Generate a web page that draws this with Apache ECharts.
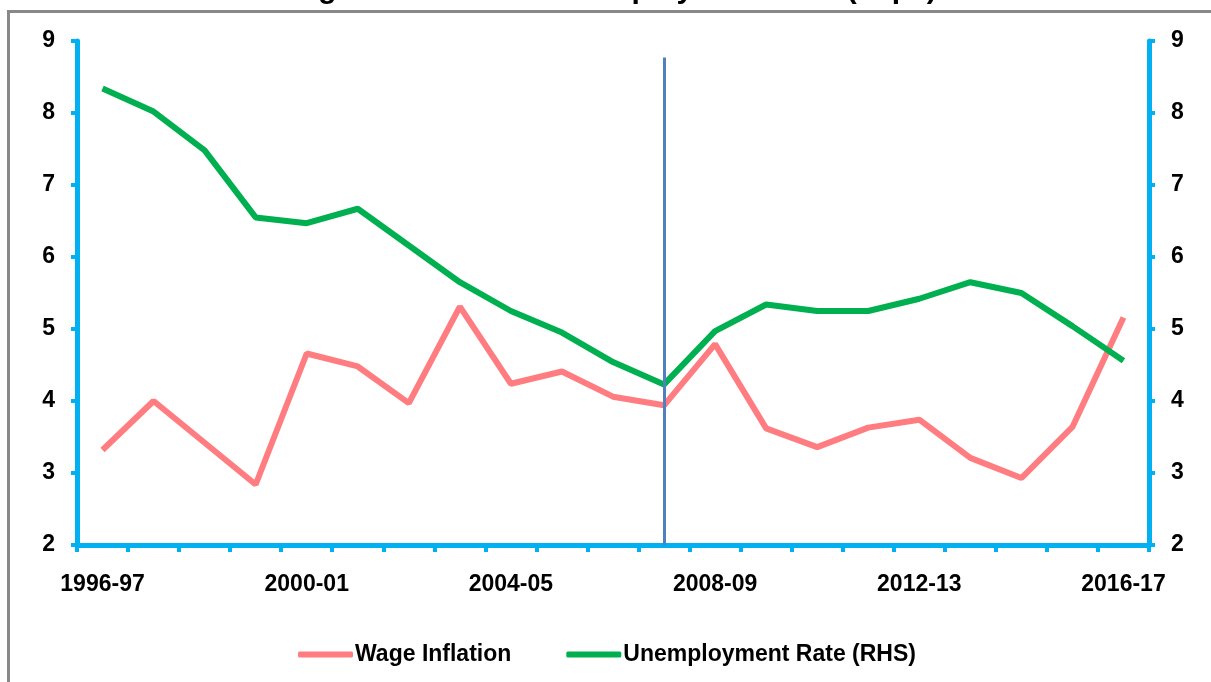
<!DOCTYPE html>
<html>
<head>
<meta charset="utf-8">
<script src="https://cdn.jsdelivr.net/npm/echarts@6/dist/echarts.min.js"></script>
<style>
html,body{margin:0;padding:0;background:#fff;}
#chart{width:1211px;height:682px;}
</style>
</head>
<body>
<div id="chart"></div>
<script>
const titleText = 'Wage Inflation and Unemployment Rate (in pc)';
const categories = ['1996-97','1997-98','1998-99','1999-00','2000-01','2001-02','2002-03','2003-04','2004-05','2005-06','2006-07','2007-08','2008-09','2009-10','2010-11','2011-12','2012-13','2013-14','2014-15','2015-16','2016-17'];
const wageInflation = [3.32, 4.0, 3.42, 2.84, 4.66, 4.48, 3.97, 5.31, 4.24, 4.41, 4.06, 3.94, 4.79, 3.62, 3.36, 3.63, 3.74, 3.21, 2.93, 3.64, 5.16];
const unemploymentRate = [8.34, 8.02, 7.48, 6.55, 6.47, 6.67, 6.16, 5.65, 5.25, 4.95, 4.54, 4.23, 4.97, 5.34, 5.25, 5.25, 5.42, 5.65, 5.5, 5.04, 4.56];
const yTicks = [2, 3, 4, 5, 6, 7, 8, 9];
const eventCategory = '2007-08';
const eventLineTop = 8.77;

const FONT = 'Liberation Sans';
const AXIS_BLUE = '#00b0f0';
const chart = echarts.init(document.getElementById('chart'), null, {renderer: 'canvas'});

const yAxisCommon = {
  type: 'value',
  min: yTicks[0],
  max: yTicks[yTicks.length - 1],
  interval: 1,
  axisLine: {show: true, lineStyle: {color: AXIS_BLUE, width: 5}},
  axisTick: {show: true, length: 6, lineStyle: {color: AXIS_BLUE, width: 4}},
  splitLine: {show: false},
  axisLabel: {color: '#000', fontFamily: FONT, fontWeight: 'bold', fontSize: 23}
};

chart.setOption({
  animation: false,
  backgroundColor: '#fff',
  title: {
    text: titleText,
    left: 'center',
    top: -30,
    textStyle: {fontFamily: FONT, fontWeight: 'bold', fontSize: 30, color: '#000'}
  },
  graphic: [{
    type: 'rect',
    shape: {x: 8.5, y: 11.5, width: 1400, height: 900},
    style: {fill: 'none', stroke: '#888', lineWidth: 3},
    z: -1
  }],
  grid: {left: 77, right: 62, top: 41, bottom: 137, containLabel: false},
  legend: {
    left: 293,
    top: 638,
    icon: 'roundRect',
    itemWidth: 55,
    itemHeight: 6,
    itemGap: 55,
    textStyle: {fontFamily: FONT, fontWeight: 'bold', fontSize: 23, color: '#000', padding: [0, 0, 0, -3]},
    data: ['Wage Inflation', 'Unemployment Rate (RHS)']
  },
  xAxis: {
    type: 'category',
    data: categories,
    boundaryGap: true,
    axisLine: {show: true, onZero: false, lineStyle: {color: AXIS_BLUE, width: 5}},
    axisTick: {show: true, interval: 0, length: 7, lineStyle: {color: AXIS_BLUE, width: 4}},
    axisLabel: {interval: 3, margin: 28, color: '#000', fontFamily: FONT, fontWeight: 'bold', fontSize: 23}
  },
  yAxis: [
    Object.assign({}, yAxisCommon, {position: 'left', axisLabel: Object.assign({}, yAxisCommon.axisLabel, {margin: 22})}),
    Object.assign({}, yAxisCommon, {position: 'right', axisLabel: Object.assign({}, yAxisCommon.axisLabel, {margin: 22})})
  ],
  series: [
    {
      name: 'Wage Inflation',
      type: 'line',
      yAxisIndex: 0,
      data: wageInflation,
      symbol: 'none',
      color: '#ff7c80',
      lineStyle: {color: '#ff7c80', width: 6},
      z: 3,
      markLine: {
        silent: true,
        symbol: ['none', 'none'],
        label: {show: false},
        lineStyle: {color: '#4f81bd', width: 3, type: 'solid'},
        data: [[{coord: [eventCategory, eventLineTop]}, {coord: [eventCategory, yTicks[0]]}]]
      }
    },
    {
      name: 'Unemployment Rate (RHS)',
      type: 'line',
      yAxisIndex: 1,
      data: unemploymentRate,
      symbol: 'none',
      color: '#00b050',
      lineStyle: {color: '#00b050', width: 6},
      z: 4
    }
  ]
});
</script>
</body>
</html>
